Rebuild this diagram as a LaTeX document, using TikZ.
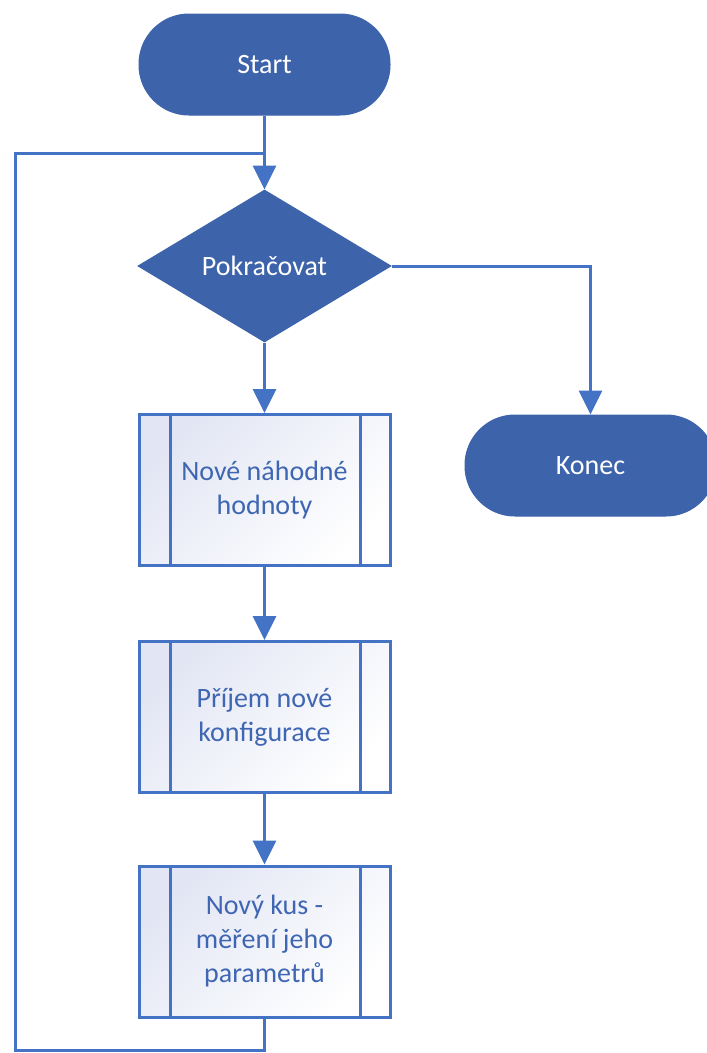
\documentclass[tikz,border=0pt]{standalone}
\usepackage{fontspec}
\setmainfont{Carlito}
\usetikzlibrary{shapes.geometric,arrows.meta}
\definecolor{darkfill}{RGB}{61,99,171}
\definecolor{lineblue}{RGB}{68,114,196}
\definecolor{textblue}{RGB}{63,102,178}
\definecolor{lav}{RGB}{226,230,244}
\tikzset{
  terminal/.style={rectangle, rounded corners=50pt, fill=darkfill, draw=darkfill, line width=1pt,
    minimum width=251pt, minimum height=101pt, text=white, inner sep=0pt,
    font=\fontsize{28}{34}\selectfont},
  decision/.style={diamond, fill=darkfill, draw=darkfill, line width=1pt,
    minimum width=253pt, minimum height=152pt, text=white, inner sep=0pt,
    font=\fontsize{28}{34}\selectfont},
  predef/.style={rectangle, draw=lineblue, line width=3pt,
    top color=lav, bottom color=white, shading angle=45,
    minimum width=251pt, minimum height=151pt, text=textblue, inner sep=0pt,
    align=center, font=\fontsize{28}{34}\selectfont,
    path picture={
      \draw[lineblue, line width=3pt]
        ([xshift=31pt]path picture bounding box.north west) -- ([xshift=31pt]path picture bounding box.south west)
        ([xshift=-30pt]path picture bounding box.north east) -- ([xshift=-30pt]path picture bounding box.south east);
    }},
  flow/.style={draw=lineblue, line width=3pt, -{Triangle[length=24pt,width=23pt]}},
  plain/.style={draw=lineblue, line width=3pt}
}
\begin{document}
\begin{tikzpicture}[x=1pt,y=-1pt]
\useasboundingbox (0,0) rectangle (707,1053);
\clip (0,0) rectangle (707,1053);
\node[terminal] (start) at (264.5,64.5) {Start};
\node[decision] (dec) at (264.5,266) {Pokračovat};
\node[terminal] (konec) at (590.5,465.5) {Konec};
\node[predef] (p1) at (264.5,490) {Nové náhodné\\hodnoty};
\node[predef] (p2) at (264.5,717) {Příjem nové\\konfigurace};
\node[predef] (p3) at (264.5,941.5) {Nový kus -\\měření jeho\\parametrů};
\coordinate (lb) at (15,1050);
\coordinate (lt) at (15,153);
\coordinate (jn) at (264.5,153);
\draw[flow] (start.south) -- (dec.north);
\draw[flow] (dec.south) -- (p1.north);
\draw[flow] (p1.south) -- (p2.north);
\draw[flow] (p2.south) -- (p3.north);
\draw[flow] (dec.east) -| (konec.north);
\draw[plain, line join=miter] (p3.south) |- (lb) -- (lt) -- (jn);
\end{tikzpicture}
\end{document}
